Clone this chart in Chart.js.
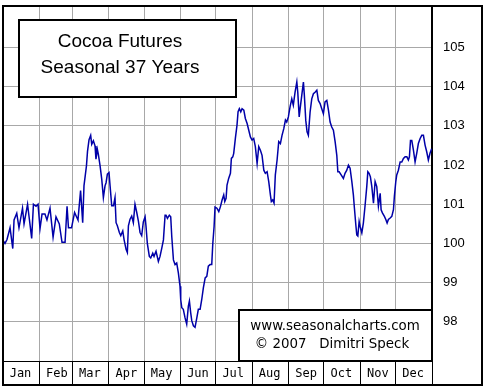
<!DOCTYPE html>
<html>
<head>
<meta charset="utf-8">
<title>Cocoa Futures Seasonal</title>
<script src="https://cdn.jsdelivr.net/npm/chart.js@4"></script>
<style>
    html, body { margin: 0; padding: 0; background: #fff; }
    canvas { display: block; }
</style>
</head>
<body>
<canvas id="chart-seasonal" width="487" height="390"></canvas>
<script>
// seasonal pattern, x = day of year, y = index value
const days = [
    0, 1.7, 3.4, 6, 8.3, 9.4, 11.7, 13.6, 16.6, 17.9, 20.9, 22.1, 24.4, 25.9, 28.1, 29.8,
    31.5, 33.2, 35.7, 37.4, 40, 42.6, 45.1, 47.9, 50.2, 52.8, 54.5, 55.7, 58.3,
    60.9, 63, 63.8, 66, 67.8, 68.9, 71, 71.9, 73.2, 74.6, 75.5, 76.9, 78.3, 79.1, 80.3, 81.1,
    82.6, 84, 85.4, 86.8, 87.7, 88.8, 90.2, 91.1, 92.5, 94, 95.3, 96.2, 97.3, 99, 100.2,
    101.9, 103, 104.7, 105.8, 106.7, 108.1, 109.5, 110.9, 112.3, 113.8, 115.2, 116.6, 118, 119.4,
    120.9, 121.7, 122.8, 124.5, 125.7, 127.4, 128.5, 130.2, 132.2, 133.6, 135.1, 136.5, 137.9,
    138.7, 139.9, 141.5, 142.7, 143.6, 145, 146.4, 147.8, 149.2, 150.6,
    151.2, 152.1, 153.4, 154.9, 156.3, 157.7, 158.6, 159.7, 160.6, 162, 163.4, 164.9, 166.2,
    167.7, 169.1, 170.5, 172, 173.4, 174.7, 176.2, 177.6, 178.5, 179.6,
    180.4, 182, 183.6, 185, 186.4, 187.8, 188.7, 189.8, 190.6, 192, 193.5, 194.3, 195.5, 196.3,
    197.7, 199.1, 200, 201.1, 202.3, 203.4, 204.9, 206.2, 207.7, 209.1, 210.5,
    211.9, 213.3, 214.7, 216.2, 217.6, 219, 220.4, 221.9, 223.2, 224.7, 226.1, 227.5, 228.3,
    229.5, 230.6, 231.7, 233.2, 234.6, 236, 237.4, 238.9, 240.3, 241.4,
    242.8, 244.3, 245.7, 247, 248.5, 250, 250.8, 252, 252.8, 254.2, 255.6, 256.4, 257.6, 258.7,
    259.8, 261.3, 262.7, 264.1, 265.5, 267, 268.3, 269.8, 271.2,
    272.6, 274, 275.5, 276.9, 278.3, 279.7, 281.1, 282.6, 284, 284.9, 286, 287.7, 289.6, 291,
    292.5, 293.9, 295.3, 296.8, 298.1, 299, 300.2, 301, 301.9,
    303, 303.8, 305.3, 306.6, 308, 309.5, 310.4, 311.5, 312.6, 313.8, 315.2, 316.6, 318, 319.4,
    320.9, 321.7, 322.8, 324.5, 325.7, 326.8, 327.9, 329.4, 330.8, 332.2,
    333, 334.2, 335, 336.4, 337.9, 339.3, 340.7, 342.1, 343.6, 344.9, 345.8, 346.7, 347.8, 349.2,
    350.6, 352, 353.4, 354.9, 356.3, 357.7, 359.1, 360.5, 361.9, 363.3, 364.7
];
const values = [
    100.08, 100.0, 100.1, 100.4, 99.87, 100.6, 100.77, 100.4, 100.9, 100.5, 101.0, 100.7, 100.13, 101.0, 100.95, 101.0,
    100.38, 100.75, 100.75, 100.6, 100.9, 100.16, 100.68, 100.5, 100.03, 100.03, 100.95, 100.4, 100.4,
    100.79, 100.65, 100.6, 101.35, 100.53, 101.47, 101.98, 102.35, 102.65, 102.76, 102.53, 102.62, 102.49, 102.15, 102.4, 102.28,
    101.98, 101.64, 101.17, 101.47, 101.55, 101.77, 101.81, 101.47, 100.96, 100.96, 101.17, 100.53, 100.45, 100.28, 100.2,
    100.32, 100.1, 99.85, 99.77, 100.45, 100.62, 100.7, 100.53, 101.0, 100.79, 100.57, 100.28, 100.2, 100.55,
    100.68, 100.43, 100.0, 99.67, 99.63, 99.75, 99.67, 99.8, 99.54, 99.67, 99.88, 100.09, 100.72,
    100.72, 100.64, 100.72, 100.68, 100.17, 99.58, 99.46, 99.5, 99.25, 98.91,
    98.57, 98.36, 98.32, 98.1, 97.94, 98.4, 98.53, 98.23, 98.03, 97.9, 97.86, 98.1, 98.32,
    98.32, 98.57, 98.87, 99.12, 99.16, 99.42, 99.46, 99.46, 100.0, 100.43,
    100.93, 100.9, 100.81, 100.94, 101.11, 101.24, 101.07, 101.15, 101.49, 101.66, 101.79, 102.17, 102.21, 102.3,
    102.68, 103.02, 103.36, 103.44, 103.36, 103.44, 103.4, 103.19, 103.06, 102.89, 102.72,
    102.64, 102.68, 102.47, 102.04, 102.47, 102.38, 102.25, 101.87, 101.79, 101.83, 101.58, 101.24, 101.07,
    101.11, 101.03, 101.75, 102.13, 102.6, 102.55, 102.76, 102.93, 103.15, 103.1,
    103.23, 103.5, 103.69, 103.53, 103.86, 104.12, 103.86, 103.23, 103.44, 103.78, 104.12, 103.78, 103.14, 102.85,
    102.76, 103.36, 103.69, 103.82, 103.86, 103.91, 103.65, 103.57, 103.44,
    103.31, 103.61, 103.65, 103.4, 103.1, 102.97, 102.89, 102.59, 102.25, 101.83, 101.83, 101.75, 101.66, 101.79,
    101.87, 102.0, 101.92, 101.58, 101.24, 100.9, 100.47, 100.22, 100.19,
    100.56, 100.44, 100.27, 100.52, 100.95, 101.45, 101.83, 101.79, 101.7, 101.45, 101.03, 101.58, 101.45, 100.95,
    101.28, 100.86, 100.78, 100.69, 100.61, 100.52, 100.61, 100.65, 100.69, 100.86,
    101.2, 101.58, 101.75, 101.87, 102.08, 102.08, 102.17, 102.21, 102.21, 102.13, 102.21, 102.63, 102.63, 102.38,
    102.08, 102.3, 102.55, 102.68, 102.76, 102.76, 102.51, 102.34, 102.13, 102.3, 102.42
];

const months = ["Jan", "Feb", "Mar", "Apr", "May", "Jun", "Jul", "Aug", "Sep", "Oct", "Nov", "Dec"];
const monthStarts = [0, 31, 59, 90, 120, 151, 181, 212, 243, 273, 304, 334, 365];
const yTicks = [98, 99, 100, 101, 102, 103, 104, 105];

const titleLines = ["Cocoa Futures", "Seasonal 37 Years"];
const creditLines = ["www.seasonalcharts.com", "\u00A9 2007   Dimitri Speck"];

// frame, title box and credit box
const boxesPlugin = {
    id: 'boxes',
    afterDraw(chart) {
        const ctx = chart.ctx;
        const area = chart.chartArea;
        const xs = chart.scales.x;
        const ys = chart.scales.y;
        ctx.save();
        ctx.lineWidth = 2;
        ctx.strokeStyle = '#000';

        // title box
        ctx.fillStyle = '#fff';
        ctx.fillRect(area.left + 16, area.top + 14, 217, 77);
        ctx.strokeRect(area.left + 16, area.top + 14, 217, 77);
        ctx.fillStyle = '#000';
        ctx.font = '19px "Liberation Sans", Arial, sans-serif';
        ctx.textAlign = 'center';
        ctx.textBaseline = 'alphabetic';
        ctx.fillText(titleLines[0], area.left + 117, area.top + 41);
        ctx.fillText(titleLines[1], area.left + 117, area.top + 67);

        // credit box
        ctx.fillStyle = '#fff';
        ctx.fillRect(area.right - 193, area.bottom - 51, 193, 51);
        ctx.strokeRect(area.right - 193, area.bottom - 51, 193, 51);
        ctx.fillStyle = '#000';
        ctx.font = '13.4px "DejaVu Sans", sans-serif';
        ctx.textBaseline = 'middle';
        ctx.fillText(creditLines[0], area.right - 97, area.bottom - 34);
        ctx.fillText(creditLines[1], area.right - 100, area.bottom - 16);

        // outer frame
        ctx.strokeRect(area.left, area.top, ys.right - area.left, xs.bottom - area.top);
        ctx.restore();
    }
};

const chartSeasonal = new Chart(document.getElementById('chart-seasonal'), {
    type: 'line',
    data: {
        datasets: [{
            data: days.map((d, i) => ({ x: d, y: values[i] })),
            borderColor: '#0000a8',
            borderWidth: 1.5,
            pointRadius: 0,
            tension: 0,
            fill: false
        }]
    },
    options: {
        responsive: false,
        maintainAspectRatio: false,
        animation: false,
        layout: { padding: { left: 3, top: 6, right: 5, bottom: 5 } },
        plugins: {
            legend: { display: false },
            tooltip: { enabled: false }
        },
        scales: {
            x: {
                type: 'linear',
                min: 0,
                max: 365,
                afterBuildTicks: scale => { scale.ticks = monthStarts.map(v => ({ value: v })); },
                afterFit: scale => {
                    scale.height = 24;
                    scale.paddingLeft = 0;
                    scale.paddingRight = 0;
                },
                grid: { color: '#a8a8a8', tickColor: '#000', tickLength: 24, drawTicks: true },
                border: { display: true, color: '#000', width: 1 },
                ticks: {
                    autoSkip: false,
                    maxRotation: 0,
                    labelOffset: 17.5,
                    padding: -18,
                    color: '#000',
                    font: { family: '"DejaVu Sans Mono", monospace', size: 12 },
                    callback: (v, i) => months[i] || ''
                }
            },
            y: {
                position: 'right',
                min: 97,
                max: 106.06,
                afterBuildTicks: scale => { scale.ticks = yTicks.map(v => ({ value: v })); },
                afterFit: scale => {
                    scale.width = 50;
                    scale.paddingTop = 0;
                    scale.paddingBottom = 0;
                },
                grid: { color: '#a8a8a8', drawTicks: false },
                border: { display: true, color: '#000', width: 2 },
                ticks: {
                    padding: 11,
                    color: '#000',
                    font: { family: '"Liberation Sans", Arial, sans-serif', size: 13 }
                }
            }
        }
    },
    plugins: [boxesPlugin]
});
</script>
</body>
</html>
